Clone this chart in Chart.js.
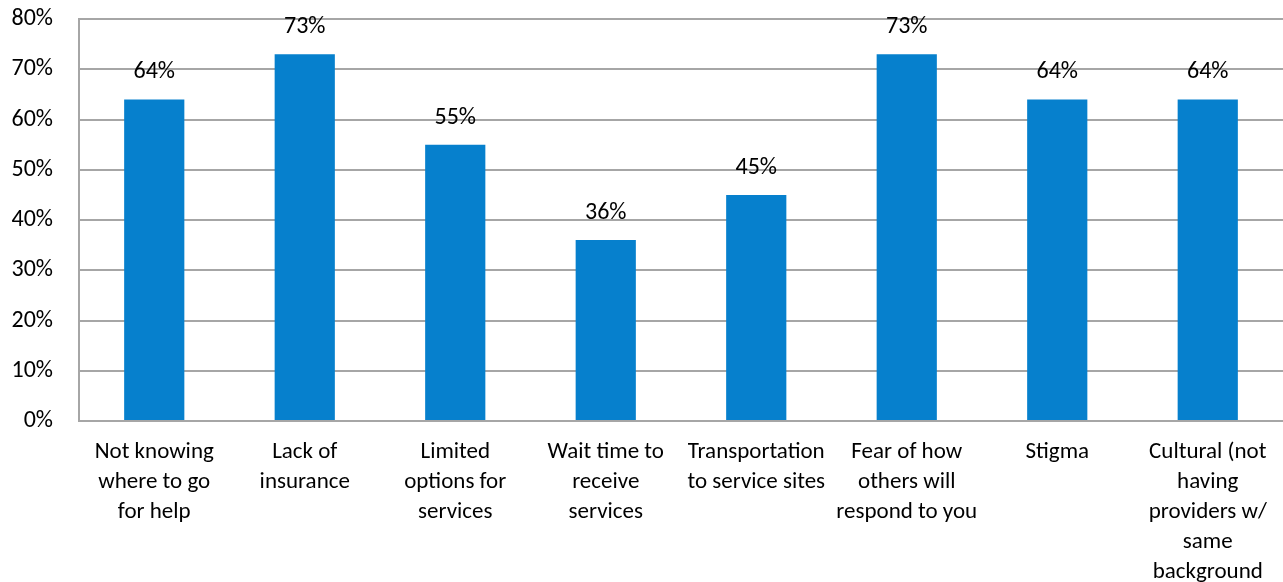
<!DOCTYPE html>
<html>
<head>
<meta charset="utf-8">
<script src="https://cdn.jsdelivr.net/npm/chart.js@4"></script>
<style>
  html, body { margin: 0; padding: 0; background: #fff; }
  #wrap { width: 1283px; height: 582px; }
</style>
</head>
<body>
<div id="wrap"><canvas id="barrierChart"></canvas></div>
<script>
// BARRIERS TO SEEKING HELP
const categories = [
    ["Not knowing", "where to go", "for help"],
    ["Lack of", "insurance"],
    ["Limited", "options for", "services"],
    ["Wait time to", "receive", "services"],
    ["Transportation", "to service sites"],
    ["Fear of how", "others will", "respond to you"],
    ["Stigma"],
    ["Cultural (not", "having", "providers w/", "same", "background"]
];
const percentValues = [64, 73, 55, 36, 45, 73, 64, 64];
const yTicks = [0, 10, 20, 30, 40, 50, 60, 70, 80];

const FONT = "Carlito, Lato, 'Liberation Sans', sans-serif";

// draw "NN%" above each bar
const valueLabels = {
    id: "valueLabels",
    afterDatasetsDraw(chart) {
        const ctx = chart.ctx;
        const meta = chart.getDatasetMeta(0);
        ctx.save();
        ctx.font = "24px " + FONT;
        ctx.fillStyle = "#000";
        ctx.textAlign = "center";
        ctx.textBaseline = "middle";
        meta.data.forEach((bar, i) => {
            ctx.fillText(percentValues[i] + "%", bar.x, bar.y - 27);
        });
        ctx.restore();
    }
};

new Chart(document.getElementById("barrierChart"), {
    type: "bar",
    data: {
        labels: categories,
        datasets: [{
            data: percentValues,
            backgroundColor: "#0680CD",
            borderWidth: 0,
            barPercentage: 0.4,
            categoryPercentage: 1.0
        }]
    },
    options: {
        responsive: true,
        maintainAspectRatio: false,
        animation: false,
        layout: { padding: { top: 19, right: 0, bottom: 0, left: 0 } },
        plugins: {
            legend: { display: false },
            tooltip: { enabled: false }
        },
        scales: {
            y: {
                min: 0,
                max: 80,
                afterBuildTicks: axis => {
                    axis.ticks = yTicks.map(v => ({ value: v }));
                },
                afterFit: axis => {
                    axis.width = 79;
                    axis.paddingTop = 0;
                    axis.paddingBottom = 0;
                },
                ticks: {
                    color: "#000",
                    padding: 26,
                    font: { family: FONT, size: 24 },
                    callback: v => v + "%"
                },
                grid: {
                    color: "#A6A6A6",
                    lineWidth: 2,
                    drawTicks: false
                },
                border: { color: "#A6A6A6", width: 2 }
            },
            x: {
                afterFit: axis => {
                    axis.height = 161;
                    axis.paddingTop = 0;
                    axis.paddingBottom = 0;
                },
                ticks: {
                    color: "#000",
                    padding: 16,
                    maxRotation: 0,
                    autoSkip: false,
                    font: { family: FONT, size: 23, lineHeight: 30 / 23 }
                },
                grid: { display: false, drawTicks: false },
                border: { color: "#A6A6A6", width: 2 }
            }
        }
    },
    plugins: [valueLabels]
});
</script>
</body>
</html>
